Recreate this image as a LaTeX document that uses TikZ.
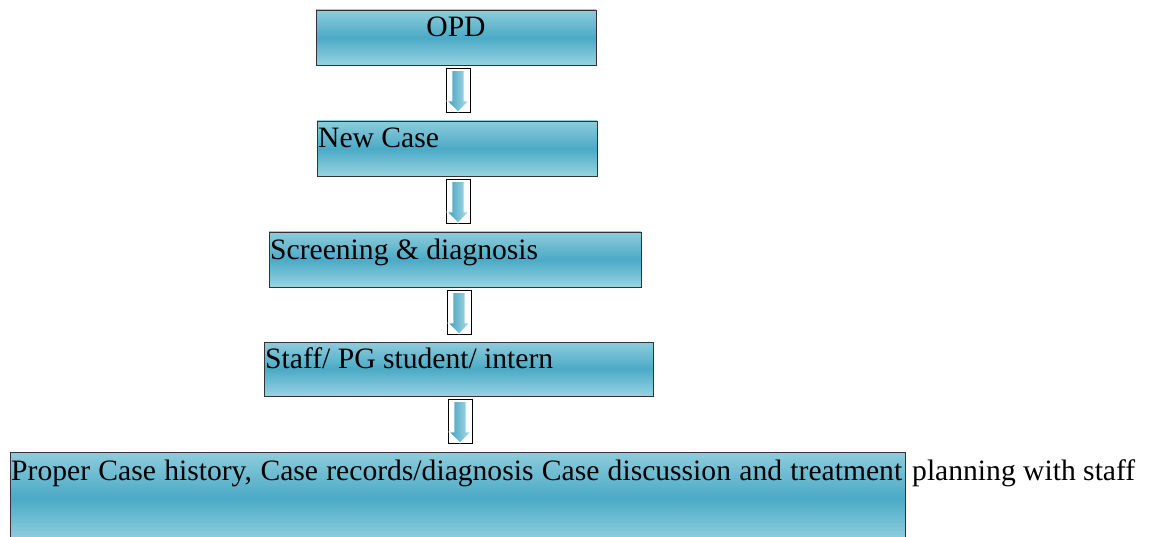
\documentclass[tikz,border=0pt]{standalone}
\usepackage{fontspec}
\setmainfont{Liberation Serif}
\definecolor{boxlight}{HTML}{8ECCDC}
\definecolor{boxdark}{HTML}{4BAAC6}
\definecolor{boxbottom}{HTML}{97D3E2}
\definecolor{arrdark}{HTML}{3E9FBE}
\definecolor{arrlight}{HTML}{B2E0EA}
\tikzset{
  box/.style={draw=black!80, line width=0.8pt, top color=boxlight, bottom color=boxbottom, middle color=boxdark,
    anchor=north west, inner sep=0pt, outer sep=0pt},
  lbl/.style={anchor=base west, inner sep=0pt, font=\fontsize{29.6}{32}\selectfont},
  flowarrow/.pic={
    \draw[black, line width=0.9pt] (-12,0) rectangle (12,44.5);
    \draw[white, line width=0.8pt, left color=arrdark, right color=arrlight]
      (-6,2.5) -- (6,2.5) -- (6,33) -- (11,33) -- (0,44) -- (-11,33) -- (-6,33) -- cycle;
  }
}
\begin{document}
\begin{tikzpicture}[x=1pt, y=-1pt]
\useasboundingbox (0,0) rectangle (1153,537);
\node[box, minimum width=280pt, minimum height=55pt] (opd) at (316,10) {};
\node[box, minimum width=280pt, minimum height=55pt] (nc) at (317,121) {};
\node[box, minimum width=372pt, minimum height=55pt] (scr) at (269,232) {};
\node[box, minimum width=389pt, minimum height=54pt] (staff) at (264,342) {};
\node[box, minimum width=895pt, minimum height=92pt] (last) at (10,452) {};

\node[lbl, anchor=base] (topd) at (456,37) {OPD};
\node[lbl] (tnc) at (318,148) {New Case};
\node[lbl] (tscr) at (270,259) {Screening \& diagnosis};
\node[lbl] (tstaff) at (265,368) {Staff/ PG student/ intern};
\node[lbl] (tlast) at (11,480) {\makebox[891pt][s]{Proper Case history, Case records/diagnosis Case discussion and treatment}};
\node[lbl] (tplan) at (912,480) {planning with staff};

\pic at (458,68) {flowarrow};
\pic at (458,179) {flowarrow};
\pic at (459,290) {flowarrow};
\pic at (460,399) {flowarrow};
\end{tikzpicture}
\end{document}
